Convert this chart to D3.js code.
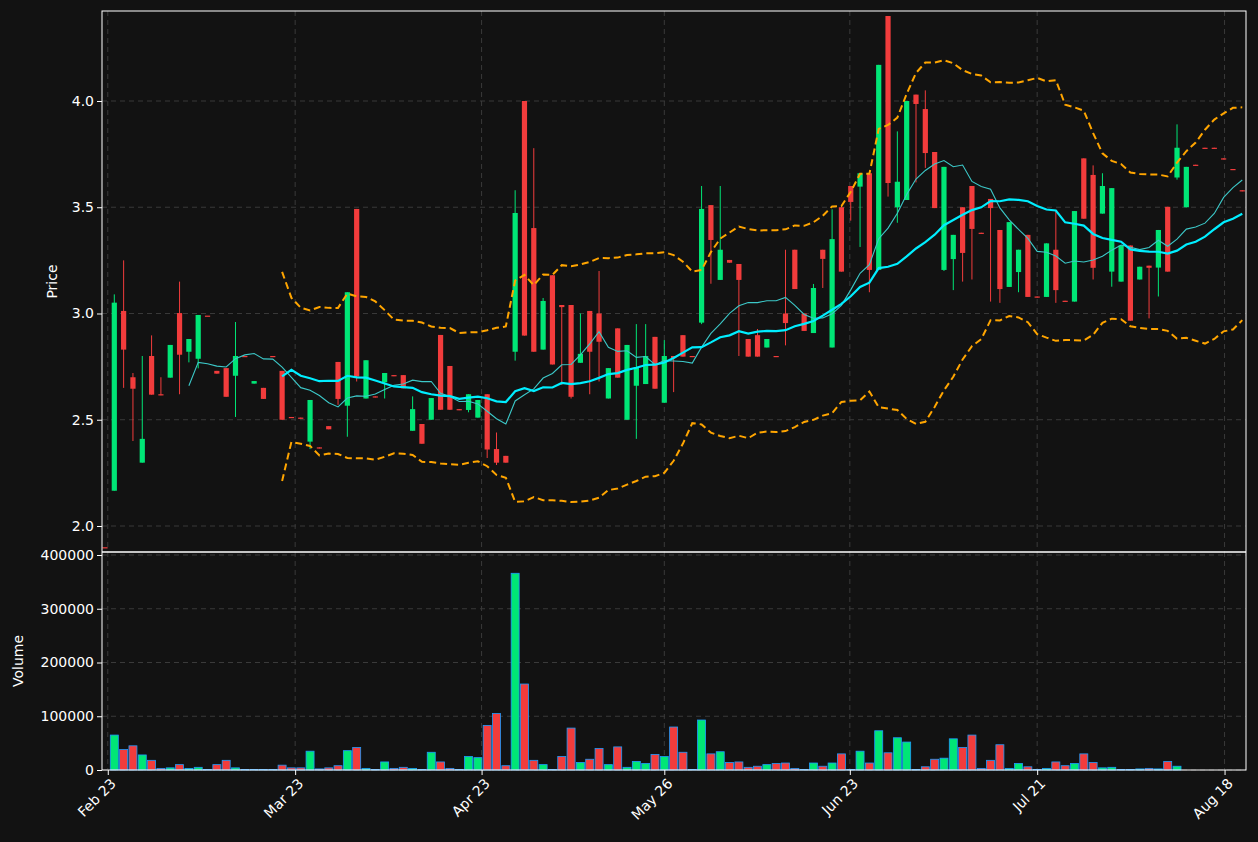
<!DOCTYPE html>
<html>
<head>
<meta charset="utf-8">
<script src="https://cdn.jsdelivr.net/npm/d3@7"></script>
<style>
  body { margin: 0; background: #121212; }
  svg { display: block; }
  text { font-family: "DejaVu Sans", sans-serif; }
</style>
</head>
<body>
<svg id="chart" width="1258" height="842"></svg>
<script>
// OHLC per trading day (index 0..122)
const opens  = [1.90,2.166,3.012,2.70,2.298,2.80,2.62,2.698,3.002,2.82,2.787,2.99,2.73,2.743,2.707,2.80,2.67,2.65,2.80,2.73,
                2.513,2.51,2.397,2.37,2.47,2.772,2.566,3.492,2.60,2.61,2.676,2.71,2.71,2.448,2.48,2.50,2.899,2.753,2.55,2.546,
                2.51,2.62,2.362,2.33,2.82,4.0,3.402,2.83,3.18,3.04,3.04,2.768,3.012,3.0,2.60,2.93,2.50,2.66,2.668,2.89,
                2.58,2.80,2.898,2.80,2.957,3.51,3.158,3.252,3.233,2.88,2.898,2.84,2.80,3.0,3.30,3.0,2.908,3.30,2.84,3.50,
                3.60,3.597,3.66,3.205,4.40,3.50,3.534,4.03,3.962,3.76,3.205,3.256,3.50,3.60,3.38,3.539,3.393,3.125,3.195,3.37,
                3.08,3.078,3.30,3.06,3.056,3.73,3.652,3.47,3.197,3.15,3.32,3.16,3.225,3.216,3.502,3.64,3.50,3.70,3.78,3.78,
                3.73,3.68,3.58];
const highs  = [1.90,3.09,3.25,2.72,2.80,2.897,2.70,2.852,3.15,2.88,2.993,2.99,2.73,2.743,2.96,2.80,2.682,2.65,2.80,2.73,
                2.513,2.51,2.593,2.37,2.47,2.772,3.10,3.492,2.78,2.61,2.72,2.71,2.71,2.61,2.48,2.602,2.899,2.753,2.55,2.62,
                2.593,2.62,2.44,2.33,3.58,4.0,3.778,3.073,3.18,3.04,3.04,3.0,3.012,3.2,2.743,2.93,2.852,2.95,2.95,2.89,
                2.875,2.80,2.898,2.80,3.60,3.51,3.60,3.252,3.233,2.88,2.927,2.88,2.80,3.30,3.30,3.0,3.139,3.30,3.49,3.50,
                3.60,3.66,3.66,4.17,4.40,3.857,4.0,4.03,4.05,3.76,3.69,3.37,3.50,3.60,3.38,3.539,3.393,3.43,3.30,3.37,
                3.08,3.33,3.48,3.06,3.482,3.73,3.697,3.66,3.59,3.32,3.32,3.22,3.225,3.393,3.502,3.89,3.69,3.70,3.78,3.78,
                3.73,3.68,3.58];
const lows   = [1.90,2.166,2.65,2.40,2.298,2.618,2.615,2.698,2.62,2.77,2.742,2.99,2.717,2.608,2.513,2.80,2.67,2.598,2.80,2.50,
                2.51,2.505,2.362,2.365,2.455,2.57,2.42,2.68,2.60,2.605,2.60,2.705,2.648,2.448,2.387,2.50,2.547,2.547,2.545,2.535,
                2.51,2.32,2.287,2.298,2.778,2.896,2.82,2.83,2.76,2.664,2.60,2.768,2.62,2.68,2.60,2.698,2.50,2.41,2.668,2.646,
                2.58,2.63,2.797,2.795,2.95,3.14,3.158,3.239,2.80,2.797,2.797,2.84,2.795,2.85,3.115,2.918,2.908,3.12,2.84,3.197,
                3.437,3.313,3.10,3.205,3.55,3.427,3.534,3.617,3.685,3.496,3.20,3.11,3.15,3.16,3.375,3.056,3.05,3.125,3.10,3.078,
                3.075,3.078,3.05,3.055,3.056,3.446,3.16,3.47,3.126,3.15,2.966,3.16,2.977,3.08,3.197,3.63,3.50,3.695,3.775,3.775,
                3.725,3.675,3.575];
const closes = [1.895,3.051,2.83,2.646,2.41,2.618,2.615,2.852,2.806,2.88,2.993,2.985,2.717,2.608,2.80,2.795,2.682,2.598,2.795,2.50,
                2.51,2.505,2.593,2.365,2.455,2.598,3.10,2.703,2.78,2.605,2.72,2.705,2.648,2.55,2.387,2.602,2.547,2.547,2.545,2.62,
                2.593,2.36,2.298,2.298,3.473,2.896,2.82,3.059,2.76,3.03,2.608,2.81,2.82,2.867,2.743,2.698,2.852,2.748,2.80,2.646,
                2.80,2.79,2.797,2.795,3.492,3.346,3.30,3.239,3.158,2.797,2.797,2.88,2.795,2.955,3.115,2.918,3.12,3.257,3.35,3.197,
                3.525,3.66,3.205,4.17,3.614,3.62,4.0,3.986,3.755,3.496,3.69,3.37,3.285,3.398,3.375,3.496,3.115,3.43,3.30,3.078,
                3.075,3.33,3.11,3.055,3.482,3.446,3.215,3.60,3.59,3.32,2.966,3.22,3.215,3.393,3.197,3.78,3.69,3.695,3.775,3.775,
                3.725,3.675,3.575];
const volumes = [0,65000,38000,45000,28000,18000,3000,4000,10000,3000,5000,1000,10000,18000,4000,1000,1000,1000,1000,9000,
                 4000,4000,35000,2000,4000,8000,36000,42000,3000,1000,15000,3000,5000,3000,1000,33000,15000,3000,1000,25000,
                 23000,83000,105000,8000,366000,160000,18000,10000,1000,25000,78000,14000,20000,40000,10000,43000,5000,16000,12000,29000,
                 25000,80000,33000,1000,93000,30000,34000,14000,15000,5000,7000,10000,12000,13000,3000,1000,13000,7000,13000,30000,
                 1000,35000,13000,73000,32000,60000,52000,1000,6000,20000,22000,58000,42000,65000,3000,18000,47000,3000,12000,6000,
                 1000,3000,15000,8000,12000,30000,14000,4000,5000,1000,1000,2000,3000,2000,16000,7000,0,0,0,0,
                 0,0,0];
const tickIdx = [0.3, 20.4, 40.4, 60, 79.9, 100, 120.1];
const tickLabels = ["Feb 23", "Mar 23", "Apr 23", "May 26", "Jun 23", "Jul 21", "Aug 18"];
const priceTicks = [2.0, 2.5, 3.0, 3.5, 4.0];
const volumeTicks = [0, 100000, 200000, 300000, 400000];

const UP = "#00e676", DOWN = "#f23c3c";

var svg = d3.select("#chart");
svg.append("rect").attr("width", 1258).attr("height", 842).attr("fill", "#121212");

var left = 102, right = 1246, pTop = 11, pBot = 552, vBot = 770;
var x = d3.scaleLinear().domain([-0.32, 122.4]).range([left, right]);
var yP = d3.scaleLinear().domain([1.8776, 4.4235]).range([pBot, pTop]);
var yV = d3.scaleLinear().domain([0, 405600]).range([vBot, pBot]);

// rolling stats computed from closes
function rolling(n, fn) {
    return closes.map(function (d, i) {
        if (i < n - 1) return null;
        return fn(closes.slice(i - n + 1, i + 1));
    });
}
var ma10 = rolling(10, d3.mean);
var ma20 = rolling(20, d3.mean);
var sd20 = rolling(20, function (w) { var m = d3.mean(w); return Math.sqrt(d3.mean(w, v => (v - m) * (v - m))); });
var bbUp = ma20.map((m, i) => m == null ? null : m + 2 * sd20[i]);
var bbLo = ma20.map((m, i) => m == null ? null : m - 2 * sd20[i]);

function grid(g, yScale, ticks, y0, y1) {
    g.selectAll(".hg").data(ticks).enter().append("line")
        .attr("x1", left).attr("x2", right).attr("y1", yScale).attr("y2", yScale)
        .attr("stroke", "#3a3a3a").attr("stroke-dasharray", "5,4");
    g.selectAll(".vg").data(tickIdx).enter().append("line")
        .attr("x1", x).attr("x2", x).attr("y1", y0).attr("y2", y1)
        .attr("stroke", "#3a3a3a").attr("stroke-dasharray", "5,4");
}
var gp = svg.append("g"), gv = svg.append("g");
grid(gp, yP, priceTicks, pTop, pBot);
grid(gv, yV, volumeTicks, pBot, vBot);

var clipP = svg.append("clipPath").attr("id", "cp");
clipP.append("rect").attr("x", left).attr("y", pTop).attr("width", right - left).attr("height", pBot - pTop);
var plot = svg.append("g").attr("clip-path", "url(#cp)");

var idx = d3.range(closes.length);
// wicks
plot.selectAll(".wick").data(idx).enter().append("line")
    .attr("x1", i => x(i)).attr("x2", i => x(i))
    .attr("y1", i => yP(highs[i])).attr("y2", i => yP(lows[i]))
    .attr("stroke", i => closes[i] >= opens[i] ? UP : DOWN).attr("stroke-width", 1);
// bodies
plot.selectAll(".body").data(idx).enter().append("rect")
    .attr("x", i => x(i) - 2.6).attr("width", 5.2)
    .attr("y", i => yP(Math.max(opens[i], closes[i])))
    .attr("height", i => Math.max(1.2, Math.abs(yP(opens[i]) - yP(closes[i]))))
    .attr("fill", i => closes[i] >= opens[i] ? UP : DOWN);

function drawLine(data, color, w, dash) {
    plot.append("path").datum(idx)
        .attr("d", d3.line().defined(i => data[i] != null).x(i => x(i)).y(i => yP(data[i])))
        .attr("fill", "none").attr("stroke", color).attr("stroke-width", w)
        .attr("stroke-dasharray", dash || null);
}
drawLine(ma10, "#3cc8c8", 1.1);
drawLine(ma20, "#00eeff", 2.2);
drawLine(bbUp, "#ffa500", 2, "7,4");
drawLine(bbLo, "#ffa500", 2, "7,4");

// volume
svg.selectAll(".vol").data(idx.filter(i => volumes[i] > 0)).enter().append("rect")
    .attr("x", i => x(i) - 4).attr("width", 8)
    .attr("y", i => yV(volumes[i])).attr("height", i => vBot - yV(volumes[i]))
    .attr("fill", i => closes[i] >= opens[i] ? UP : DOWN)
    .attr("stroke", "#1e9bff").attr("stroke-width", 0.8);

// axes
var fmt = d3.format(".1f");
var axP = svg.append("g").attr("transform", "translate(" + left + ",0)")
    .call(d3.axisLeft(yP).tickValues(priceTicks).tickFormat(fmt).tickSize(5));
var axV = svg.append("g").attr("transform", "translate(" + left + ",0)")
    .call(d3.axisLeft(yV).tickValues(volumeTicks).tickFormat(d3.format("d")).tickSize(5));
var axX = svg.append("g").attr("transform", "translate(0," + vBot + ")")
    .call(d3.axisBottom(x).tickValues(tickIdx).tickFormat((d, i) => tickLabels[i]).tickSize(5));
axX.selectAll("text").attr("text-anchor", "end").attr("dx", "-0.3em").attr("dy", "0.6em")
    .attr("transform", "rotate(-45)");
[axP, axV, axX].forEach(function (a) {
    a.select(".domain").remove();
    a.selectAll("line").attr("stroke", "#fff");
    a.selectAll("text").attr("fill", "#fff").attr("font-size", 14).attr("font-family", "DejaVu Sans");
});

// frames
svg.append("rect").attr("x", left).attr("y", pTop).attr("width", right - left).attr("height", vBot - pTop)
    .attr("fill", "none").attr("stroke", "#fff").attr("stroke-width", 1);
svg.append("line").attr("x1", left).attr("x2", right).attr("y1", pBot).attr("y2", pBot)
    .attr("stroke", "#fff").attr("stroke-width", 1.5);

svg.append("text").attr("transform", "translate(57," + ((pTop + pBot) / 2) + ") rotate(-90)")
    .attr("text-anchor", "middle").attr("fill", "#fff").attr("font-size", 14).text("Price");
svg.append("text").attr("transform", "translate(23," + ((pBot + vBot) / 2) + ") rotate(-90)")
    .attr("text-anchor", "middle").attr("fill", "#fff").attr("font-size", 14).text("Volume");
</script>
</body>
</html>
